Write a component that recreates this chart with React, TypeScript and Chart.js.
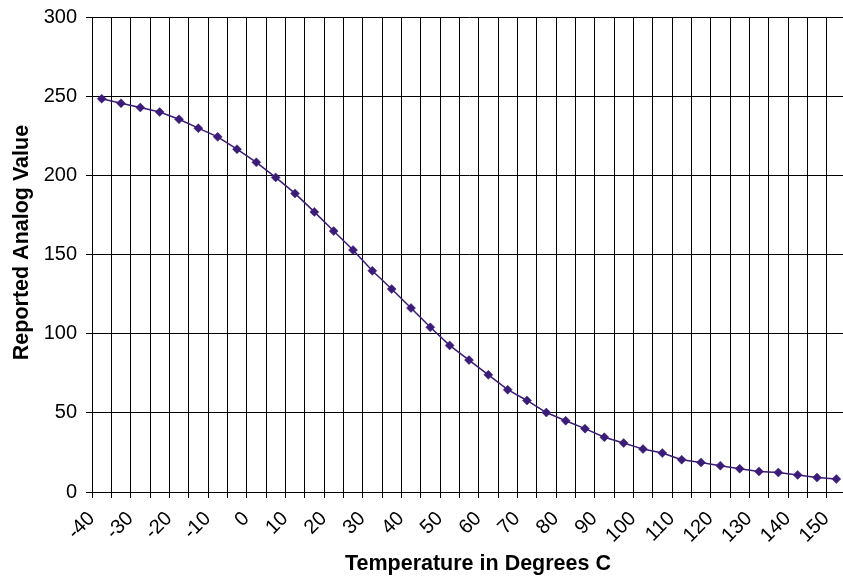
import React, { useEffect, useRef } from "react";
import { Chart, registerables } from "chart.js";

Chart.register(...registerables);

const temperatures: number[] = [
  -40, -35, -30, -25, -20, -15, -10, -5, 0, 5, 10, 15, 20, 25, 30, 35, 40, 45, 50, 55,
  60, 65, 70, 75, 80, 85, 90, 95, 100, 105, 110, 115, 120, 125, 130, 135, 140, 145, 150,
];

const analogValues: number[] = [
  248.4, 245.5, 242.8, 240.0, 235.4, 229.8, 224.3, 216.5, 208.2, 198.7,
  188.6, 176.9, 164.8, 152.8, 139.7, 128.2, 116.2, 104.0, 92.6, 83.3,
  74.0, 64.6, 57.8, 50.2, 45.0, 40.0, 34.6, 30.9, 27.1, 24.6,
  20.4, 18.7, 16.6, 14.7, 13.0, 12.3, 10.8, 9.1, 8.2,
];

const yMin = 0;
const yMax = 300;
const yStep = 50;

const xTitle = "   Temperature in Degrees C";
const yTitle = "    Reported Analog Value";

const lineColor = "#3b1c78";
const fontFamily = "'Liberation Sans', Arial, sans-serif";

export default function App() {
  const ref = useRef<HTMLCanvasElement | null>(null);

  useEffect(() => {
    if (!ref.current) return;
    const chart = new Chart(ref.current, {
      type: "line",
      data: {
        labels: temperatures.map((t) => String(t)),
        datasets: [
          {
            data: analogValues,
            borderColor: lineColor,
            backgroundColor: lineColor,
            borderWidth: 1.5,
            pointStyle: "rectRot",
            pointRadius: 4.5,
            pointBorderWidth: 0.5,
            pointBackgroundColor: lineColor,
            pointBorderColor: lineColor,
            tension: 0,
          },
        ],
      },
      options: {
        animation: false,
        responsive: true,
        maintainAspectRatio: false,
        layout: { autoPadding: false, padding: { top: 17, left: 0, right: 0, bottom: 0 } },
        plugins: {
          legend: { display: false },
          tooltip: { enabled: false },
        },
        scales: {
          x: {
            type: "category",
            offset: true,
            grid: {
              offset: true,
              color: "#000",
              lineWidth: 1,
              tickLength: 6,
              tickColor: "#000",
            },
            border: { display: true, color: "#000", width: 1 },
            ticks: {
              autoSkip: false,
              minRotation: 45,
              maxRotation: 45,
              padding: 9,
              labelOffset: -10,
              color: "#000",
              font: { family: fontFamily, size: 20 },
              callback: (_v: any, i: number) => (i % 2 === 0 ? String(temperatures[i]) : ""),
            },
            title: {
              display: true,
              text: xTitle,
              color: "#000",
              font: { family: fontFamily, size: 21.5, weight: "bold" },
              padding: { top: 0, bottom: 3 },
            },
            afterFit: (scale: any) => {
              scale.height = 88;
              scale.paddingLeft = 0;
              scale.paddingRight = 0;
            },
          },
          y: {
            min: yMin,
            max: yMax,
            grid: {
              color: "#000",
              lineWidth: 1,
              tickLength: 6,
              tickColor: "#000",
            },
            border: { display: true, color: "#000", width: 1 },
            ticks: {
              stepSize: yStep,
              padding: 9,
              color: "#000",
              font: { family: fontFamily, size: 20 },
            },
            title: {
              display: true,
              text: yTitle,
              color: "#000",
              font: { family: fontFamily, size: 21.5, weight: "bold" },
              padding: { top: 9, bottom: 0 },
            },
            afterFit: (scale: any) => {
              scale.width = 92;
              scale.paddingTop = 0;
              scale.paddingBottom = 0;
            },
          },
        },
      },
    });
    return () => chart.destroy();
  }, []);

  return (
    <div
      style={{
        position: "fixed",
        left: 0,
        top: 0,
        width: 843,
        height: 580,
        overflow: "hidden",
        background: "#fff",
      }}
    >
      <div style={{ position: "absolute", left: 0, top: 0, width: 846, height: 580 }}>
        <canvas ref={ref} />
      </div>
    </div>
  );
}
